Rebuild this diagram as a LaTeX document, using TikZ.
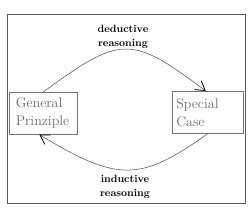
\documentclass[tikz,border=0pt]{standalone}
\usetikzlibrary{arrows.meta}
\begin{document}
\begin{tikzpicture}[x=1pt,y=-1pt,
  boxstyle/.style={draw=black!55, line width=0.6pt, minimum height=42pt, align=left,
    text=black!58, font=\fontsize{14}{18}\selectfont, anchor=north west},
  lbl/.style={align=center, font=\bfseries\fontsize{10.5}{13.5}\selectfont, text=black},
  conn/.style={draw=black!70, line width=0.5pt, -{Straight Barb[length=9pt,width=11pt,line width=0.8pt,black]}}]
\useasboundingbox (0,0) rectangle (250,207);
\fill[white] (0,0) rectangle (250,207);
\draw[black!65, line width=0.8pt] (7,14) rectangle (245,203);
\node[boxstyle, text width=55pt, inner xsep=6.5pt, inner ysep=0pt] (lbox) at (9,92) {General\\Prinziple};
\node[boxstyle, text width=63pt, inner xsep=4pt, inner ysep=0pt] (rbox) at (172,91) {Special\\Case};
\node[lbl] (ded) at (123,37) {deductive\\reasoning};
\node[lbl] (ind) at (125,187) {inductive\\reasoning};
\draw[conn] (lbox.north) .. controls (121,35) and (131,35) .. ([xshift=-2pt]rbox.north);
\draw[conn] (rbox.south) .. controls (140,182) and (118,182) .. ([xshift=-4pt]lbox.south);
\end{tikzpicture}
\end{document}
